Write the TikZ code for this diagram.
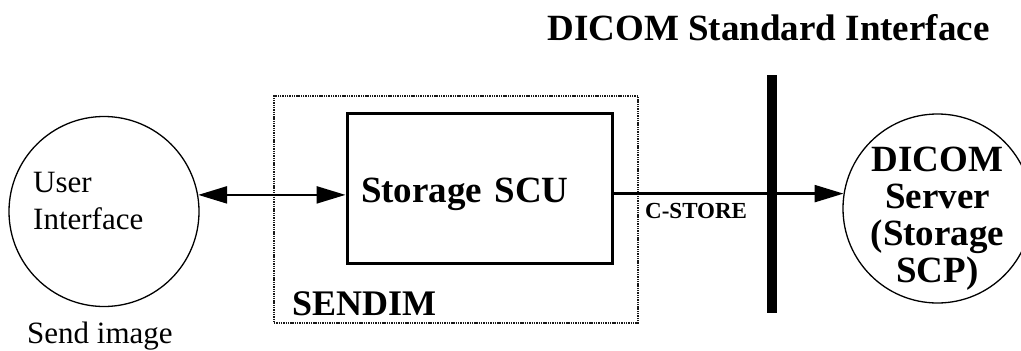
\documentclass[tikz,border=0pt]{standalone}
\usepackage{fontspec}
\setmainfont{Liberation Serif}
\usetikzlibrary{arrows.meta}

\begin{document}
\begin{tikzpicture}[x=1pt,y=-1pt,>={Triangle[length=29pt,width=17pt]},
		conn/.style={line width=2.4pt},
		blob/.style={draw,circle,line width=1.3pt,inner sep=0pt},
		bigb/.style={font=\fontsize{37}{37}\selectfont\bfseries},
		plain/.style={font=\fontsize{31}{37}\selectfont}]
		\useasboundingbox (0,0) rectangle (1021,351);
		\clip (0,0) rectangle (1021,351);
		\node[bigb,anchor=base,inner sep=0pt] (title) at (768.5,40) {DICOM Standard Interface};
		% SENDIM box
		\node[draw,line width=2.2pt,dash pattern=on 1.4pt off 0.9pt,black!90,minimum width=364pt,minimum height=227pt] (sendim) at (456,209.5) {};
		\node[font=\fontsize{36}{36}\selectfont\bfseries,anchor=base west,inner sep=0pt] (sendimlbl) at (292,315) {SENDIM};
		\node[draw,line width=3pt,minimum width=265pt,minimum height=150pt,text width=237pt,align=left,text height=28pt,text depth=0pt,bigb] (scu) at (479.5,188) {Storage SCU};
		% user side
		\node[blob,minimum size=190pt] (ui) at (104,211.5) {};
		\node[plain,align=left,anchor=north west,inner sep=0pt] (uitxt) at (33,172) {User\\Interface};
		\node[plain,anchor=base west,inner sep=0pt] (sendlbl) at (27,343) {Send image};
		% server side
		\node[fill,minimum width=10pt,minimum height=238pt,inner sep=0pt] (bar) at (772,194) {};
		\node[blob,minimum size=189pt] (srv) at (937.5,208.5) {};
		\node[bigb,align=center,inner sep=0pt] (srvtxt) at (937.5,219) {DICOM\\Server\\(Storage\\SCP)};
		\draw[conn,<->] (ui.10.6) -- (ui.10.6 -| scu.west);
		\draw[conn,->] (scu.east |- srv.171) -- (srv.171);
		\node[font=\fontsize{23}{23}\selectfont\bfseries,anchor=base west,inner sep=0pt] (cstore) at (645,218) {C-STORE};
\end{tikzpicture}
\end{document}
